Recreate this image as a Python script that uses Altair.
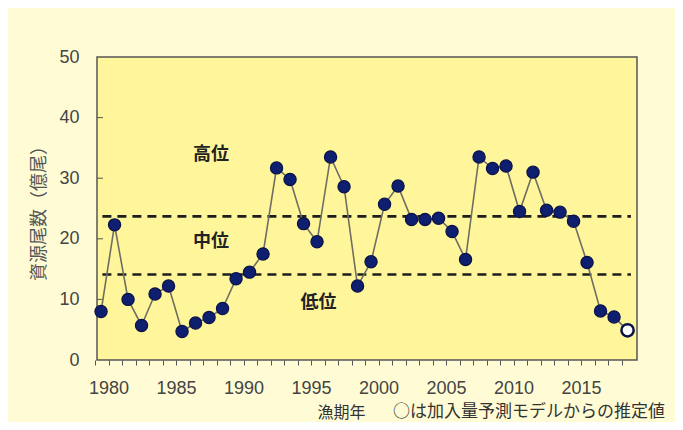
import altair as alt
import pandas as pd

years = list(range(1979, 2019))
stock = [8.0, 22.3, 10.0, 5.7, 10.9, 12.2, 4.7, 6.1, 7.0, 8.5,
         13.4, 14.5, 17.5, 31.7, 29.8, 22.5, 19.5, 33.5, 28.6, 12.2,
         16.2, 25.7, 28.7, 23.2, 23.2, 23.4, 21.2, 16.6, 33.5, 31.6,
         32.0, 24.5, 31.0, 24.7, 24.4, 22.9, 16.1, 8.1, 7.1, 4.9]
estimated_years = [2018]

levels = [23.7, 14.1]
level_start = 1979.1
level_end = 2018.25

zone_names = ['高位', '中位', '低位']
zone_x = [1987.15, 1987.15, 1995.1]
zone_y = [33.8, 19.4, 9.4]

y_ticks = [0, 10, 20, 30, 40, 50]

jp_font = 'Noto Sans CJK JP'
num_font = 'Liberation Sans'

df = pd.DataFrame({'year': years, 'stock': stock})
df['est'] = df['year'].isin(estimated_years)

x_scale = alt.Scale(domain=[1978.7, 2018.7], nice=False, zero=False)
y_scale = alt.Scale(domain=[0, 50], nice=False)

base = alt.Chart(df).encode(
    alt.X('year:Q', scale=x_scale,
          axis=alt.Axis(values=years, tickCount=len(years), tickSize=5, tickOffset=-6,
                        tickColor='#555',
                        labelExpr="datum.value % 5 == 0 ? datum.value : ''",
                        labelOverlap=False, labelBound=False,
                        labelFont=num_font, labelFontSize=18, labelColor='#444',
                        labelPadding=14, labelFlush=False, domain=False, grid=False,
                        title='漁期年', titleFont=jp_font, titleFontSize=16,
                        titleFontWeight='normal', titleColor='#333',
                        titleX=244, titleY=52, titleBaseline='middle')),
    alt.Y('stock:Q', scale=y_scale,
          axis=alt.Axis(values=y_ticks, ticks=False, tickSize=0, domain=False, grid=False,
                        labelFont=num_font, labelFontSize=18, labelColor='#444',
                        labelPadding=18,
                        title='資源尾数（億尾）', titleFont=jp_font, titleFontSize=18,
                        titleFontWeight='normal', titleColor='#555', titlePadding=10))
)

line = base.mark_line(color='#6e6e62', strokeWidth=1.6)

points = base.mark_point(shape='circle', size=150, filled=True, stroke='#0a1248',
                         opacity=1).encode(
    fill=alt.condition(alt.datum.est, alt.value('white'), alt.value('#0d1f6e')),
    strokeWidth=alt.condition(alt.datum.est, alt.value(2.5), alt.value(1.2))
)

level_df = pd.DataFrame({'level': levels, 'start': level_start, 'end': level_end})
level_lines = alt.Chart(level_df).mark_rule(
    color='#1e1e1e', strokeWidth=2.6, strokeDash=[9, 6]
).encode(
    x=alt.X('start:Q', scale=x_scale),
    x2='end:Q',
    y=alt.Y('level:Q', scale=y_scale)
)

zone_df = pd.DataFrame({'name': zone_names, 'x': zone_x, 'y': zone_y})
zone_text = alt.Chart(zone_df).mark_text(
    font=jp_font, fontSize=18, fontWeight='bold', color='#222'
).encode(
    x=alt.X('x:Q', scale=x_scale),
    y=alt.Y('y:Q', scale=y_scale),
    text='name:N'
)

tick_df = pd.DataFrame({'v': y_ticks[1:-1]})
y_inner_ticks = alt.Chart(tick_df).mark_rule(color='#555', strokeWidth=1).encode(
    x=alt.value(0), x2=alt.value(6),
    y=alt.Y('v:Q', scale=y_scale)
)

note = alt.Chart(pd.DataFrame({'t': ['○は加入量予測モデルからの推定値']})).mark_text(
    font=jp_font, fontSize=17, color='#333', align='left', baseline='middle'
).encode(
    x=alt.value(296), y=alt.value(355), text='t:N'
)

chart = alt.layer(
    level_lines, y_inner_ticks, line, points, zone_text, note
).properties(
    width=540, height=303,
    autosize=alt.AutoSizeParams(type='none'),
    padding={'left': 89, 'top': 49, 'right': 38, 'bottom': 62},
    background='#fffcd5'
).configure_view(
    fill='#fff69b', stroke='#555', strokeWidth=1.5
)

chart.save("out.html", embed_options={"renderer": "svg", "actions": False})
